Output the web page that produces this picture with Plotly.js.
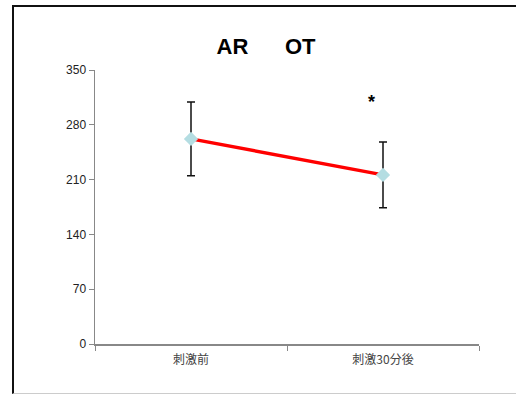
<!DOCTYPE html>
<html>
<head>
<meta charset="utf-8">
<script src="https://cdn.plot.ly/plotly-3.0.1.min.js"></script>
<style>
html,body{margin:0;padding:0;background:#fff;}
#wrap{position:relative;width:516px;height:395px;}
#chart{width:516px;height:395px;}
#frame{position:absolute;left:12px;top:5px;width:520px;height:386px;border-left:2px solid #111;border-top:2px solid #111;border-bottom:1px solid #ccc;pointer-events:none;}
</style>
</head>
<body>
<div id="wrap"><div id="chart"></div><div id="frame"></div></div>
<script>
const categories = ["刺激前", "刺激30分後"];
const values = [262, 216];
const errors = [47, 42];
const yTicks = [0, 70, 140, 210, 280, 350];
const titleText = "AR\u00a0\u00a0\u00a0\u00a0\u00a0\u00a0OT";
const markText = "*";

const trace = {
  x: categories,
  y: values,
  type: "scatter",
  mode: "lines+markers",
  line: {color: "#ff0000", width: 3.5},
  marker: {symbol: "diamond", size: 11, color: "#b4dde2"},
  error_y: {type: "data", array: errors, visible: true, color: "#111", thickness: 1.5, width: 4},
  showlegend: false,
  cliponaxis: false
};

const layout = {
  width: 516, height: 395,
  margin: {l: 95, r: 37, t: 70, b: 51},
  paper_bgcolor: "#fff", plot_bgcolor: "#fff",
  font: {family: "Liberation Sans, Arial, sans-serif", color: "#222", size: 12},
  title: {text: "<b>" + titleText + "</b>", x: 266/516, xanchor: "center", y: 1 - 46/395, yanchor: "middle",
          font: {size: 22, color: "#000", family: "Liberation Sans, Arial, sans-serif"}},
  xaxis: {
    type: "category", range: [-0.5, 1.5], tickson: "boundaries",
    showline: true, linecolor: "#888", linewidth: 1.5,
    ticks: "outside", ticklen: 5, tickcolor: "#888",
    ticklabelstandoff: 4,
    showgrid: false, zeroline: false, fixedrange: true,
    tickfont: {family: "Noto Sans CJK JP, sans-serif", size: 12, color: "#444"}
  },
  yaxis: {
    range: [0, 350], tickvals: yTicks, ticktext: yTicks.map(String),
    showline: true, linecolor: "#888", linewidth: 1.5,
    ticks: "outside", ticklen: 5, tickcolor: "#888",
    showgrid: false, zeroline: false, fixedrange: true,
    tickfont: {size: 12, color: "#222"}
  },
  annotations: [{
    x: categories[1], y: 309, xref: "x", yref: "y", text: "<b>" + markText + "</b>",
    showarrow: false, xshift: -12, font: {size: 18, color: "#000"}
  }]
};

Plotly.newPlot("chart", [trace], layout, {displayModeBar: false, staticPlot: true});
</script>
</body>
</html>
